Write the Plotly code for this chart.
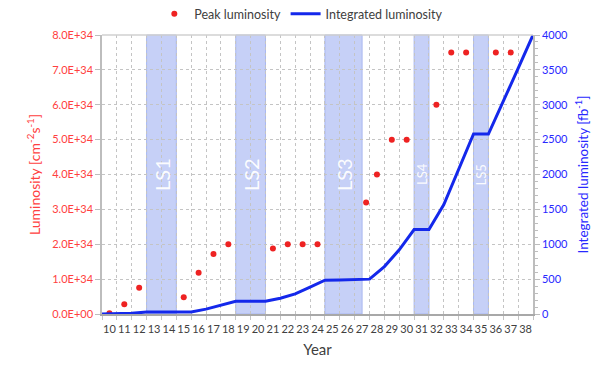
import plotly.graph_objects as go

# ---------------- data ----------------
axis_years = list(range(10, 39))  # x tick labels (20xx)

# peak luminosity points (year label, value in 1E34 cm^-2 s^-1)
peak_years = [10, 11, 12, 15, 16, 17, 18, 21, 22, 23, 24, 27.27, 28, 29, 30, 32, 33, 34, 36, 37]
peak_lumi_e34 = [0.02, 0.28, 0.75, 0.48, 1.18, 1.72, 2.0, 1.88, 2.0, 2.0, 2.0, 3.2, 4.0, 5.0, 5.0, 6.0, 7.5, 7.5, 7.5, 7.5]

# integrated luminosity at the start of each year (fb^-1)
int_years = list(range(10, 40))
int_lumi_fb = [0, 2, 10, 28, 28, 28, 30, 70, 125, 182, 182, 182, 226, 288, 385,
               485, 487, 490, 500, 680, 920, 1210, 1210, 1570, 2075, 2580, 2580, 3040, 3520, 4000]

# long shutdowns
shutdown_names = ["LS1", "LS2", "LS3", "LS4", "LS5"]
shutdown_start = [13, 19, 25, 31, 35]
shutdown_end = [15, 21, 27.5, 32, 36]
shutdown_font = [20, 20, 20, 13, 13]

left_ticks_e34 = list(range(0, 9))
right_ticks = list(range(0, 4001, 500))

# ---------------- style ----------------
RED = "rgb(238,34,34)"
RED_TXT = "rgb(255,64,64)"
BLUE = "rgb(20,40,235)"
BLUE_TXT = "rgb(40,40,255)"
GRID = "#c4c4c4"
AXIS = "#bdbdbd"
FONT = "Lato"

fig = go.Figure()
fig.add_trace(go.Scatter(
    x=[y + 0.5 for y in peak_years],
    y=[v * 1e34 for v in peak_lumi_e34],
    mode="markers", name="Peak luminosity",
    marker=dict(color=RED, size=6),
    yaxis="y", legend="legend",
))
fig.add_trace(go.Scatter(
    x=int_years, y=int_lumi_fb,
    mode="lines", name="Integrated luminosity",
    line=dict(color=BLUE, width=3),
    yaxis="y2", legend="legend2",
))

shapes = []
annotations = []
for name, s, e, fs in zip(shutdown_names, shutdown_start, shutdown_end, shutdown_font):
    shapes.append(dict(type="rect", xref="x", yref="paper", x0=s, x1=e, y0=0, y1=1,
                       fillcolor="#c6d0f7",
                       line=dict(color="#a9b7f0", width=1), layer="below"))
    annotations.append(dict(x=(s + e) / 2, y=0.50, xref="x", yref="paper", text=name,
                            showarrow=False, textangle=-90,
                            font=dict(family=FONT, size=fs, color="rgba(255,255,255,0.95)")))
# top border
shapes.append(dict(type="line", xref="paper", yref="paper", x0=0, x1=1, y0=1, y1=1,
                   line=dict(color="#d0d0d0", width=1.5)))

legend_common = dict(orientation="h", xanchor="left", y=1.075, yanchor="middle",
                     font=dict(size=12.5, color="#404040"), itemwidth=30,
                     bgcolor="rgba(0,0,0,0)")

# the page body adds an 8px offset, so the figure is 8px smaller than the window
fig.update_layout(
    width=592, height=359,
    margin=dict(l=94, r=67, t=27, b=53, autoexpand=False),
    paper_bgcolor="white", plot_bgcolor="white",
    font=dict(family=FONT, color="#404040", size=11),
    showlegend=True,
    legend=dict(x=0.1214, **legend_common),
    legend2=dict(x=0.426, **legend_common),
    xaxis=dict(
        range=[10, 39],
        tickmode="array",
        tickvals=[y + 0.5 for y in axis_years],
        ticktext=[str(y) for y in axis_years],
        tickangle=0,
        showgrid=False, zeroline=False, automargin=False,
        ticks="outside", ticklen=4, tickcolor="rgba(0,0,0,0)",
        tickfont=dict(size=11, color="#404040"),
        minor=dict(tick0=10, dtick=1, showgrid=True, gridcolor=GRID, griddash="dot",
                   gridwidth=1, ticks="outside", ticklen=4, tickcolor=GRID),
        showline=True, linecolor="#a8a8a8", linewidth=2,
        title=dict(text="Year", font=dict(size=15, color="#404040", family=FONT + " Bold, " + FONT),
                   standoff=10),
    ),
    yaxis=dict(
        range=[0, 8e34],
        tickmode="array",
        tickvals=[v * 1e34 for v in left_ticks_e34],
        ticktext=[f"{v * 1e34:.1E}" for v in left_ticks_e34],
        showgrid=True, gridcolor=GRID, griddash="dot", gridwidth=1,
        zeroline=False, automargin=False,
        ticks="outside", ticklen=5, tickcolor=AXIS,
        showline=True, linecolor=AXIS, linewidth=1.5,
        tickfont=dict(size=11, color=RED_TXT),
        title=dict(text="Luminosity [cm<sup>-2</sup>s<sup>-1</sup>]",
                   font=dict(size=14, color=RED_TXT), standoff=8),
    ),
    yaxis2=dict(
        overlaying="y", side="right",
        range=[0, 4000],
        tickmode="array", tickvals=right_ticks,
        showgrid=False, zeroline=False, automargin=False,
        ticks="outside", ticklen=5, tickcolor=AXIS,
        minor=dict(dtick=100, ticks="outside", ticklen=3, tickcolor=AXIS, showgrid=False),
        showline=True, linecolor=AXIS, linewidth=1.5,
        tickfont=dict(size=11, color=BLUE_TXT),
        title=dict(text="Integrated luminosity [fb<sup>-1</sup>]",
                   font=dict(size=13.5, color=BLUE_TXT), standoff=11),
    ),
    shapes=shapes,
    annotations=annotations,
)

fig.write_html("out.html")
